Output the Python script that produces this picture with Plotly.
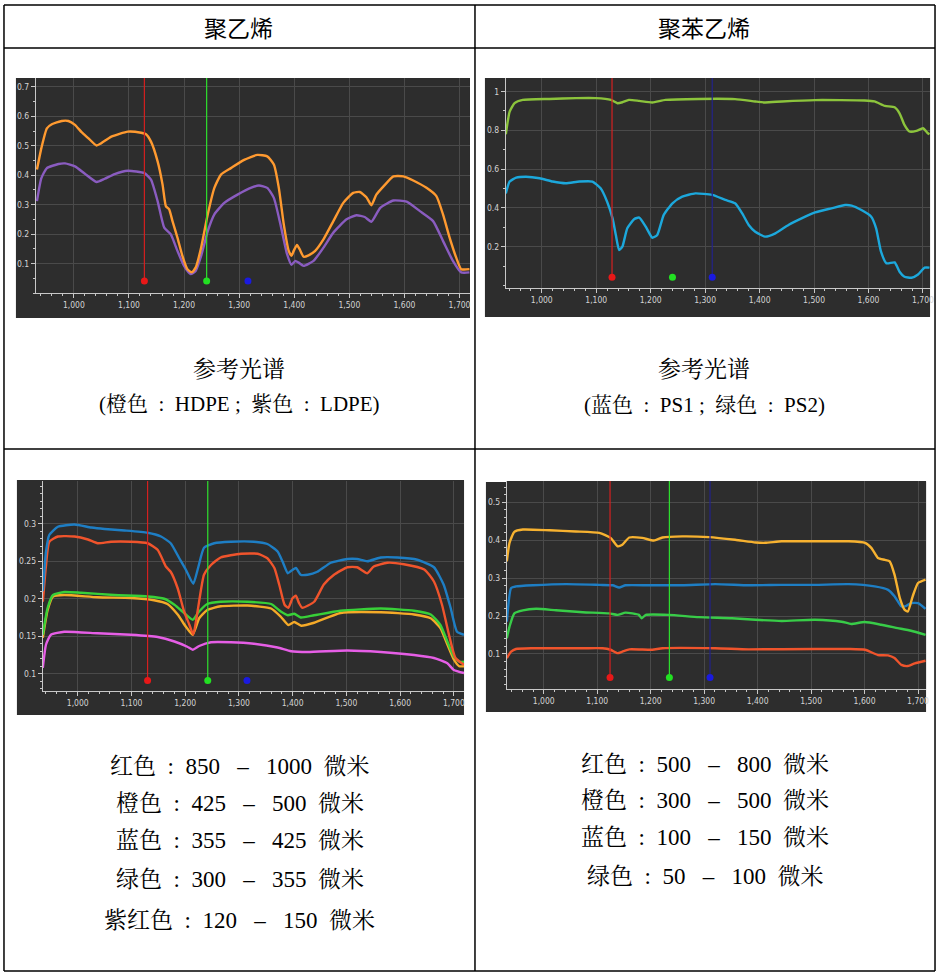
import plotly.graph_objects as go

W, H = 943, 977

# ---------------- data: panel 1 (聚乙烯 reference) ----------------
p1_hdpe_wl = [933, 941, 951, 960, 978, 990, 1002, 1014, 1026, 1041, 1050, 1068, 1098, 1122, 1131, 1140,
              1152, 1161, 1167, 1173, 1179, 1188, 1197, 1206, 1214, 1221, 1231, 1243, 1255, 1267, 1285,
              1309, 1333, 1351, 1363, 1372, 1381, 1390, 1395, 1399, 1405, 1410, 1417, 1426, 1438, 1453,
              1471, 1489, 1507, 1519, 1531, 1540, 1549, 1562, 1580, 1598, 1616, 1640, 1658, 1670, 1682,
              1694, 1703, 1718]
p1_hdpe = [0.419, 0.492, 0.559, 0.573, 0.584, 0.584, 0.571, 0.546, 0.526, 0.501, 0.509, 0.531, 0.548,
           0.544, 0.539, 0.514, 0.447, 0.368, 0.295, 0.284, 0.244, 0.188, 0.126, 0.081, 0.070, 0.086,
           0.154, 0.267, 0.357, 0.402, 0.424, 0.452, 0.469, 0.464, 0.436, 0.357, 0.233, 0.143, 0.126,
           0.143, 0.163, 0.148, 0.123, 0.128, 0.143, 0.182, 0.244, 0.306, 0.340, 0.343, 0.325, 0.298,
           0.334, 0.362, 0.396, 0.396, 0.382, 0.357, 0.329, 0.267, 0.188, 0.120, 0.081, 0.081]
p1_ldpe_wl = [933, 941, 951, 972, 984, 1002, 1020, 1041, 1056, 1074, 1098, 1128, 1140, 1152, 1164, 1176,
              1188, 1200, 1212, 1221, 1231, 1243, 1255, 1273, 1297, 1321, 1336, 1351, 1363, 1375, 1387,
              1395, 1402, 1408, 1417, 1435, 1453, 1471, 1495, 1513, 1528, 1540, 1556, 1580, 1604, 1628,
              1652, 1670, 1688, 1703, 1718]
p1_ldpe = [0.312, 0.390, 0.424, 0.438, 0.440, 0.430, 0.405, 0.377, 0.388, 0.404, 0.415, 0.407, 0.385,
           0.312, 0.222, 0.199, 0.143, 0.092, 0.064, 0.075, 0.126, 0.210, 0.267, 0.306, 0.334, 0.357,
           0.365, 0.357, 0.323, 0.233, 0.132, 0.096, 0.109, 0.103, 0.092, 0.109, 0.154, 0.205, 0.250,
           0.264, 0.258, 0.242, 0.289, 0.314, 0.310, 0.278, 0.244, 0.177, 0.109, 0.070, 0.070]

# ---------------- data: panel 2 (聚苯乙烯 reference) ----------------
p2_ps2_wl = [934, 941, 950, 965, 1014, 1063, 1099, 1127, 1139, 1148, 1160, 1179, 1203, 1227, 1288, 1355,
             1392, 1410, 1441, 1502, 1593, 1611, 1630, 1648, 1657, 1666, 1675, 1688, 1700, 1709, 1712]
p2_ps2 = [0.780, 0.897, 0.940, 0.957, 0.962, 0.966, 0.966, 0.957, 0.940, 0.945, 0.957, 0.952, 0.944,
          0.957, 0.962, 0.961, 0.949, 0.944, 0.949, 0.956, 0.954, 0.949, 0.926, 0.919, 0.888, 0.828,
          0.794, 0.797, 0.811, 0.785, 0.780]
p2_ps1_wl = [934, 941, 953, 971, 996, 1020, 1044, 1069, 1093, 1108, 1120, 1130, 1136, 1142, 1148, 1157,
             1170, 1179, 1191, 1203, 1212, 1224, 1240, 1258, 1282, 1313, 1337, 1355, 1368, 1380, 1392,
             1410, 1429, 1453, 1477, 1502, 1532, 1557, 1569, 1587, 1605, 1614, 1623, 1633, 1648, 1657,
             1666, 1679, 1691, 1703, 1712]
p2_ps1 = [0.475, 0.536, 0.556, 0.561, 0.553, 0.536, 0.527, 0.536, 0.536, 0.501, 0.432, 0.346, 0.260,
          0.183, 0.200, 0.295, 0.343, 0.350, 0.303, 0.246, 0.260, 0.364, 0.424, 0.458, 0.475, 0.467,
          0.441, 0.424, 0.372, 0.312, 0.277, 0.252, 0.269, 0.312, 0.346, 0.377, 0.398, 0.415, 0.412,
          0.389, 0.355, 0.295, 0.174, 0.114, 0.119, 0.071, 0.045, 0.040, 0.057, 0.092, 0.092]

# ---------------- data: panel 3 (聚乙烯 size fractions) ----------------
p3_blue_wl = [935, 941, 947, 963, 994, 1025, 1050, 1087, 1130, 1155, 1173, 1189, 1201, 1215, 1224, 1235,
              1254, 1285, 1328, 1353, 1372, 1381, 1391, 1397, 1406, 1415, 1428, 1446, 1471, 1502, 1520,
              1539, 1564, 1595, 1632, 1663, 1681, 1694, 1706, 1719]
p3_blue = [0.210, 0.263, 0.285, 0.296, 0.299, 0.295, 0.293, 0.291, 0.288, 0.283, 0.274, 0.254, 0.239,
           0.220, 0.241, 0.268, 0.274, 0.276, 0.276, 0.273, 0.263, 0.250, 0.234, 0.237, 0.241, 0.232,
           0.232, 0.236, 0.248, 0.253, 0.253, 0.250, 0.255, 0.255, 0.252, 0.242, 0.219, 0.188, 0.156,
           0.152]
p3_red_wl = [935, 941, 947, 963, 994, 1019, 1037, 1062, 1099, 1130, 1149, 1164, 1173, 1186, 1198, 1208,
             1215, 1223, 1235, 1248, 1266, 1304, 1335, 1353, 1366, 1375, 1385, 1392, 1400, 1406, 1412,
             1418, 1440, 1458, 1477, 1502, 1520, 1539, 1551, 1576, 1607, 1645, 1663, 1678, 1691, 1703,
             1719]
p3_red = [0.196, 0.245, 0.276, 0.283, 0.283, 0.279, 0.274, 0.276, 0.276, 0.274, 0.265, 0.243, 0.236,
          0.214, 0.183, 0.165, 0.152, 0.183, 0.232, 0.245, 0.255, 0.260, 0.260, 0.254, 0.241, 0.219,
          0.192, 0.188, 0.201, 0.204, 0.194, 0.188, 0.196, 0.219, 0.232, 0.242, 0.242, 0.234, 0.243,
          0.248, 0.246, 0.239, 0.223, 0.192, 0.152, 0.121, 0.112]
p3_green_wl = [935, 944, 954, 975, 1006, 1068, 1130, 1161, 1180, 1198, 1214, 1226, 1241, 1266, 1316, 1360,
               1378, 1391, 1403, 1415, 1440, 1489, 1564, 1626, 1657, 1675, 1688, 1700, 1710, 1719]
p3_green = [0.152, 0.188, 0.205, 0.209, 0.208, 0.205, 0.203, 0.200, 0.192, 0.181, 0.172, 0.183, 0.193,
            0.196, 0.196, 0.193, 0.183, 0.178, 0.180, 0.175, 0.178, 0.184, 0.187, 0.184, 0.179, 0.165,
            0.143, 0.123, 0.116, 0.116]
p3_orange_wl = [935, 944, 954, 975, 1037, 1099, 1142, 1167, 1186, 1201, 1214, 1226, 1241, 1266, 1316, 1360,
                1378, 1392, 1403, 1416, 1440, 1489, 1564, 1626, 1657, 1675, 1688, 1700, 1710, 1719]
p3_orange = [0.148, 0.185, 0.203, 0.205, 0.202, 0.201, 0.198, 0.193, 0.179, 0.163, 0.152, 0.174, 0.185,
             0.190, 0.191, 0.187, 0.176, 0.165, 0.169, 0.164, 0.168, 0.181, 0.182, 0.179, 0.174, 0.161,
             0.139, 0.119, 0.110, 0.110]
p3_magenta_wl = [935, 941, 950, 975, 1037, 1099, 1149, 1180, 1204, 1214, 1226, 1248, 1285, 1328, 1372, 1397,
                 1428, 1502, 1564, 1626, 1663, 1688, 1700, 1719]
p3_magenta = [0.108, 0.139, 0.152, 0.156, 0.154, 0.152, 0.149, 0.143, 0.136, 0.132, 0.137, 0.142, 0.142,
              0.140, 0.135, 0.130, 0.129, 0.131, 0.129, 0.125, 0.121, 0.114, 0.105, 0.101]

# ---------------- data: panel 4 (聚苯乙烯 size fractions) ----------------
p4_orange_wl = [931, 936, 945, 961, 1011, 1060, 1104, 1125, 1138, 1147, 1160, 1184, 1206, 1222, 1259, 1309,
                1358, 1396, 1414, 1445, 1507, 1570, 1601, 1613, 1625, 1638, 1647, 1656, 1666, 1675, 1681,
                1690, 1700, 1714]
p4_orange = [0.344, 0.393, 0.422, 0.428, 0.426, 0.423, 0.419, 0.406, 0.384, 0.388, 0.407, 0.406, 0.399,
             0.407, 0.410, 0.408, 0.401, 0.394, 0.393, 0.397, 0.397, 0.397, 0.393, 0.379, 0.353, 0.348,
             0.344, 0.309, 0.247, 0.216, 0.212, 0.252, 0.287, 0.296]
p4_blue_wl = [931, 939, 948, 980, 1042, 1104, 1129, 1141, 1153, 1197, 1259, 1321, 1383, 1445, 1507, 1570,
              1619, 1644, 1656, 1669, 1678, 1687, 1700, 1714]
p4_blue = [0.185, 0.274, 0.278, 0.281, 0.284, 0.282, 0.281, 0.275, 0.281, 0.281, 0.281, 0.284, 0.281,
           0.282, 0.282, 0.284, 0.278, 0.269, 0.252, 0.225, 0.227, 0.234, 0.234, 0.219]
p4_green_wl = [931, 936, 945, 961, 986, 1023, 1073, 1122, 1138, 1153, 1178, 1183, 1191, 1234, 1290, 1352,
               1396, 1445, 1507, 1557, 1575, 1600, 1631, 1662, 1687, 1714]
p4_green = [0.141, 0.172, 0.207, 0.215, 0.219, 0.215, 0.210, 0.207, 0.203, 0.209, 0.203, 0.194, 0.203,
            0.203, 0.197, 0.194, 0.190, 0.187, 0.190, 0.185, 0.179, 0.184, 0.177, 0.168, 0.161, 0.150]
p4_red_wl = [931, 939, 948, 980, 1073, 1110, 1125, 1138, 1147, 1160, 1203, 1222, 1321, 1383, 1507, 1570,
             1601, 1625, 1644, 1656, 1669, 1681, 1694, 1714]
p4_red = [0.089, 0.106, 0.113, 0.115, 0.115, 0.115, 0.111, 0.102, 0.106, 0.112, 0.111, 0.115, 0.115,
          0.112, 0.113, 0.113, 0.111, 0.097, 0.096, 0.089, 0.071, 0.068, 0.075, 0.082]

# cursor wavelengths (red, green, blue) and the level of the cursor dots
cursor_colors = ["#e81818", "#22e022", "#1a1ae0"]
p1_cursors, p1_cursor_y = [1128, 1241, 1316], 0.041
p2_cursors, p2_cursor_y = [1129, 1240, 1313], 0.042
p3_cursors, p3_cursor_y = [1130, 1242, 1315], 0.091
p4_cursors, p4_cursor_y = [1124, 1235, 1311], 0.038

# tick labels
x_ticks = [1000, 1100, 1200, 1300, 1400, 1500, 1600, 1700]
p1_yticks = [0.1, 0.2, 0.3, 0.4, 0.5, 0.6, 0.7]
p2_yticks = [0.2, 0.4, 0.6, 0.8, 1]
p3_yticks = [0.1, 0.15, 0.2, 0.25, 0.3]
p4_yticks = [0.1, 0.2, 0.3, 0.4, 0.5]

# texts
S = "\u00a0"
COLON = f"{S}{S}:{S}{S}"
head_left, head_right = "聚乙烯", "聚苯乙烯"
ref_title = "参考光谱"
ref_left = f"(橙色{COLON}HDPE{S};{S}{S}紫色{COLON}LDPE)"
ref_right = f"(蓝色{COLON}PS1{S};{S}{S}绿色{COLON}PS2)"
def rng(c, a, b):
    return f"{c}{COLON}{a}{S*3}–{S*3}{b}{S*2}微米"
left_lines = [rng("红色", 850, 1000), rng("橙色", 425, 500), rng("蓝色", 355, 425),
              rng("绿色", 300, 355), rng("紫红色", 120, 150)]
right_lines = [rng("红色", 500, 800), rng("橙色", 300, 500), rng("蓝色", 100, 150),
               rng("绿色", 50, 100)]

# ---------------- layout helpers ----------------
def px(x):
    return x / W

def py(y):
    return 1 - y / H

DARK = "#2d2d2d"
GRID = "#4a4a4a"
TICKFONT = dict(family="Liberation Sans Narrow, DejaVu Sans Condensed, Liberation Sans, sans-serif",
                size=8.5, color="#d4d4d4")

panels = [
    dict(box=(36, 78, 472, 293), xr=[931, 1719], yr=[0.0, 0.73], bg=(16, 78, 472, 318),
         yt=p1_yticks, ydt_minor=0.05),
    dict(box=(508, 78, 934, 288), xr=[934, 1713], yr=[-0.013, 1.07], bg=(487, 78, 934, 317),
         yt=p2_yticks, ydt_minor=0.1),
    dict(box=(43, 481, 466, 691), xr=[935, 1719], yr=[0.077, 0.357], bg=(17, 480, 466, 715),
         yt=p3_yticks, ydt_minor=0.01),
    dict(box=(509, 481, 930, 689), xr=[931, 1715], yr=[0.0075, 0.556], bg=(488, 482, 930, 712),
         yt=p4_yticks, ydt_minor=0.02),
]

fig = go.Figure()

def add_curve(i, xs, ys, color):
    fig.add_trace(go.Scatter(x=xs, y=ys, mode="lines", line=dict(color=color, width=2.4, shape="spline",
                                                                  smoothing=0.5),
                             xaxis=f"x{i}", yaxis=f"y{i}", showlegend=False, hoverinfo="skip"))

def add_cursors(i, wls, level, line_flags, line_colors, ytop):
    for w, show, lc in zip(wls, line_flags, line_colors):
        if show:
            fig.add_trace(go.Scatter(x=[w, w], y=[level, ytop], mode="lines",
                                     line=dict(color=lc, width=1.2), xaxis=f"x{i}", yaxis=f"y{i}",
                                     showlegend=False, hoverinfo="skip"))
    fig.add_trace(go.Scatter(x=wls, y=[level] * len(wls), mode="markers",
                             marker=dict(color=cursor_colors, size=7, symbol="circle", line=dict(width=0)),
                             xaxis=f"x{i}", yaxis=f"y{i}", showlegend=False, hoverinfo="skip"))

line_cols = ["#d42020", "#2ee02e", "#22228a"]

add_curve(1, p1_ldpe_wl, p1_ldpe, "#8a5cc0")
add_curve(1, p1_hdpe_wl, p1_hdpe, "#ff9a30")
add_cursors(1, p1_cursors, p1_cursor_y, [True, True, False], line_cols, panels[0]["yr"][1])

add_curve(2, p2_ps2_wl, p2_ps2, "#8cc43c")
add_curve(2, p2_ps1_wl, p2_ps1, "#1ca8dc")
add_cursors(2, p2_cursors, p2_cursor_y, [True, False, True], line_cols, panels[1]["yr"][1])

add_curve(3, p3_magenta_wl, p3_magenta, "#e65ee6")
add_curve(3, p3_orange_wl, p3_orange, "#f5aa28")
add_curve(3, p3_green_wl, p3_green, "#38d038")
add_curve(3, p3_red_wl, p3_red, "#f0542c")
add_curve(3, p3_blue_wl, p3_blue, "#1e7ec4")
add_cursors(3, p3_cursors, p3_cursor_y, [True, True, False], line_cols, panels[2]["yr"][1])

add_curve(4, p4_red_wl, p4_red, "#f0542c")
add_curve(4, p4_green_wl, p4_green, "#38cc48")
add_curve(4, p4_blue_wl, p4_blue, "#1e7ec4")
add_curve(4, p4_orange_wl, p4_orange, "#f7b230")
add_cursors(4, p4_cursors, p4_cursor_y, [True, True, True], line_cols, panels[3]["yr"][1])

layout = dict(width=W, height=H, margin=dict(l=0, r=0, t=0, b=0), paper_bgcolor="white",
              plot_bgcolor=DARK, showlegend=False)

shapes = []
for k, p in enumerate(panels, start=1):
    x0, y0, x1, y1 = p["box"]
    layout[f"xaxis{k}"] = dict(domain=[px(x0), px(x1)], anchor=f"y{k}", range=p["xr"],
                               tickvals=x_ticks, tickformat=",d", showgrid=True, gridcolor=GRID,
                               gridwidth=1, zeroline=False, showline=True, linecolor="#c8c8c8",
                               linewidth=1, ticks="outside", ticklen=4, tickcolor="#c8c8c8",
                               tickfont=TICKFONT,
                               minor=dict(dtick=20, tick0=1000, ticks="outside", ticklen=2,
                                          tickcolor="#c8c8c8", showgrid=False))
    layout[f"yaxis{k}"] = dict(domain=[py(y1), py(y0)], anchor=f"x{k}", range=p["yr"],
                               tickvals=p["yt"], showgrid=True, gridcolor=GRID, gridwidth=1,
                               zeroline=False, showline=True, linecolor="#c8c8c8", linewidth=1,
                               ticks="outside", ticklen=4, tickcolor="#c8c8c8", tickfont=TICKFONT,
                               minor=dict(dtick=p["ydt_minor"], tick0=0, ticks="outside", ticklen=2,
                                          tickcolor="#c8c8c8", showgrid=False))
    bx0, by0, bx1, by1 = p["bg"]
    shapes.append(dict(type="rect", xref="paper", yref="paper", x0=px(bx0), x1=px(bx1),
                       y0=py(by1), y1=py(by0), fillcolor=DARK, line=dict(width=0), layer="below"))

TB = dict(color="black", width=1.5)
for (xa, ya, xb, yb) in [(4, 5, 939, 5), (4, 48, 939, 48), (4, 449, 939, 449), (4, 971, 939, 971),
                         (4, 5, 4, 971), (939, 5, 939, 971), (477, 5, 477, 971)]:
    shapes.append(dict(type="line", xref="paper", yref="paper", x0=px(xa), x1=px(xb),
                       y0=py(ya), y1=py(yb), line=TB, layer="above"))
layout["shapes"] = shapes

HEADFONT = dict(family="Noto Sans CJK SC, sans-serif", size=23, color="black")
SERIF = "Liberation Serif, Noto Serif CJK SC, Noto Sans CJK SC, serif"
TITLEFONT = dict(family=SERIF, size=23, color="black")
LEGFONT = dict(family=SERIF, size=21, color="black")
LINEFONT = dict(family=SERIF, size=23, color="black")

ann = []
def note(x, y, t, f):
    ann.append(dict(x=px(x), y=py(y), xref="paper", yref="paper", text=t, showarrow=False,
                    xanchor="center", yanchor="middle", font=f))

note(240, 27, head_left, HEADFONT)
note(707, 27, head_right, HEADFONT)
note(240, 369, ref_title, TITLEFONT)
note(707, 369, ref_title, TITLEFONT)
note(241, 404, ref_left, LEGFONT)
note(708, 405, ref_right, LEGFONT)
for t, y in zip(left_lines, [766, 803, 840, 879, 920]):
    note(241, y, t, LINEFONT)
for t, y in zip(right_lines, [764, 800, 837, 876]):
    note(708, y, t, LINEFONT)
layout["annotations"] = ann

fig.update_layout(**layout)
fig.write_html("out.html", config={"displayModeBar": False},
               post_script="document.body.style.margin='0';document.body.style.overflow='hidden';")
